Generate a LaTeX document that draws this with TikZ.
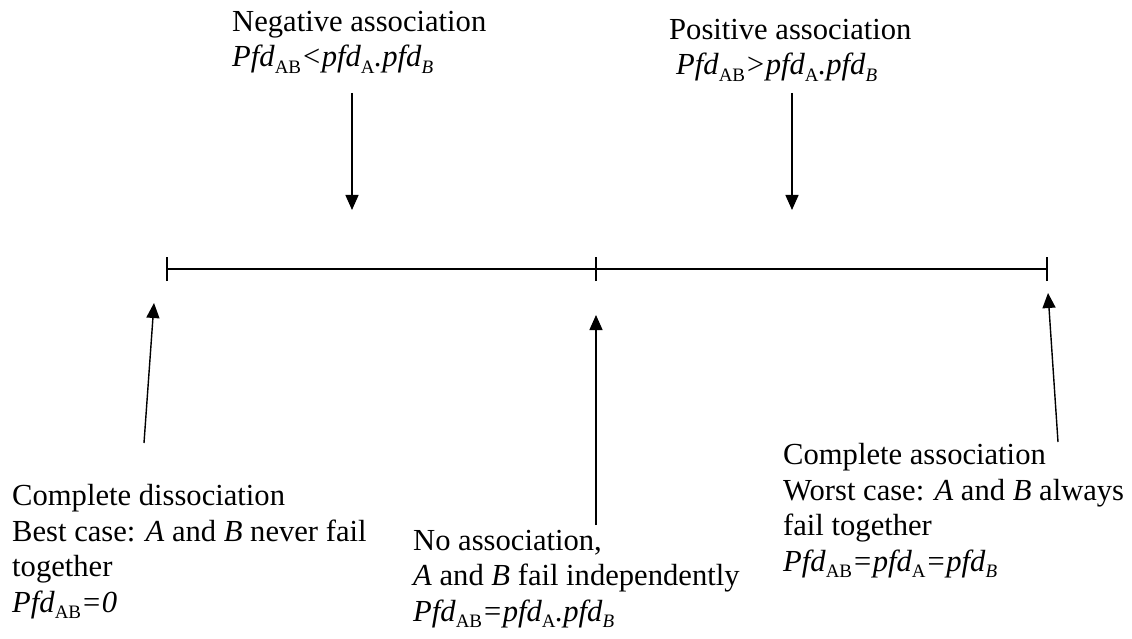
\documentclass[tikz,border=0pt]{standalone}
\usepackage{fontspec}
\setmainfont{Liberation Serif}
\usetikzlibrary{arrows.meta}
\newcommand{\lowsub}[1]{\raisebox{-0.2em}{\fontsize{19}{19}\selectfont #1}}
\newcommand{\lowsubit}[1]{\raisebox{-0.2em}{\fontsize{19}{19}\selectfont\itshape #1}}
\tikzset{
  lbl/.style={inner sep=0pt, anchor=base west, align=left, font=\fontsize{30.6}{35.4}\selectfont},
  axisline/.style={line width=1.8pt},
  pointer/.style={line width=1.4pt, -{Triangle[length=15pt,width=13pt]}},
}
\begin{document}
\begin{tikzpicture}[x=1pt,y=-1pt]
\useasboundingbox (0,0) rectangle (1132,639);
% axis
\coordinate (L) at (167,269);
\coordinate (M) at (596,269);
\coordinate (R) at (1047,269);
\draw[axisline] (L) -- (R);
\draw[axisline] ([yshift=-12pt]L) -- ([yshift=12pt]L);
\draw[axisline] ([yshift=-12pt]M) -- ([yshift=12pt]M);
\draw[axisline] ([yshift=-12pt]R) -- ([yshift=12pt]R);
% texts (base anchor = baseline of the last line)
\node[lbl] (neg) at (232,67) {Negative association\\\textit{Pfd}\lowsub{AB}\textit{<pfd}\lowsub{A}\textit{.pfd}\lowsubit{B}};
\node[lbl] (pos) at (669,75) {Positive association\\\hspace*{7pt}\textit{Pfd}\lowsub{AB}\textit{>pfd}\lowsub{A}\textit{.pfd}\lowsubit{B}};
\node[lbl] (dis) at (12,612) {Complete dissociation\\Best case: \textit{A} and \textit{B} never fail\\together\\\textit{Pfd}\lowsub{AB}\textit{=0}};
\node[lbl] (noa) at (413,621) {No association,\\\textit{A} and \textit{B} fail independently\\\textit{Pfd}\lowsub{AB}\textit{=pfd}\lowsub{A}\textit{.pfd}\lowsubit{B}};
\node[lbl] (com) at (783,571) {Complete association\\Worst case: \textit{A} and \textit{B} always\\fail together\\\textit{Pfd}\lowsub{AB}\textit{=pfd}\lowsub{A}\textit{=pfd}\lowsubit{B}};
% arrow ends
\coordinate (negS) at (352,93);
\coordinate (negE) at (352,210);
\coordinate (posS) at (792,93);
\coordinate (posE) at (792,210);
\coordinate (disS) at (144,443);
\coordinate (disE) at (154,303);
\coordinate (noaS) at (596,525);
\coordinate (noaE) at (596,315);
\coordinate (comS) at (1058,442);
\coordinate (comE) at (1048,293);
\draw[pointer] (negS) -- (negE);
\draw[pointer] (posS) -- (posE);
\draw[pointer] (disS) -- (disE);
\draw[pointer] (noaS) -- (noaE);
\draw[pointer] (comS) -- (comE);
\end{tikzpicture}
\end{document}
